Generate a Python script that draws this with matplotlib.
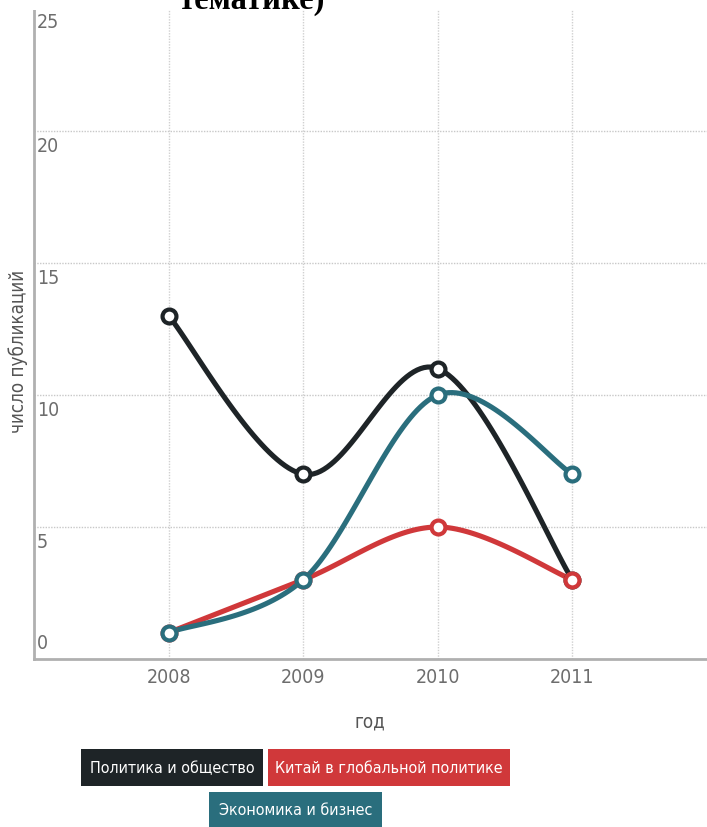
import numpy as np
import matplotlib
matplotlib.use("Agg")
import matplotlib.pyplot as plt
from matplotlib import font_manager
from matplotlib.transforms import blended_transform_factory

years = [2008, 2009, 2010, 2011]
politics = [13, 7, 11, 3]
china = [1, 3, 5, 3]
economy = [1, 3, 10, 7]
names = ["Политика и общество", "Китай в глобальной политике", "Экономика и бизнес"]
colors = ["#1e2427", "#d0383a", "#2a6e7d"]
yticks = [0, 5, 10, 15, 20, 25]

# look for a narrow sans face, the original uses a condensed font
narrow = None
for f in font_manager.fontManager.ttflist:
    if f.stretch in ("condensed", "semi-condensed", "extra-condensed") or \
            "Narrow" in f.name or "Condensed" in f.name:
        if f.style == "normal" and f.weight in (400, "normal", "regular"):
            narrow = f.fname
            break


def fp(size):
    if narrow:
        p = font_manager.FontProperties(fname=narrow, size=size)
        return dict(fontproperties=p)
    return dict(family=["Roboto", "DejaVu Sans"], fontsize=size * 0.9)


def smooth(x, y, n=40):
    # catmull-rom spline through the points, endpoints repeated
    x = np.asarray(x, float)
    y = np.asarray(y, float)
    px = np.concatenate([[x[0]], x, [x[-1]]])
    py = np.concatenate([[y[0]], y, [y[-1]]])
    t = np.linspace(0, 1, n)
    xs, ys = [], []
    for i in range(1, len(px) - 2):
        for p, out in ((px, xs), (py, ys)):
            p0, p1, p2, p3 = p[i - 1], p[i], p[i + 1], p[i + 2]
            out.extend(0.5 * (2 * p1 + (-p0 + p2) * t
                              + (2 * p0 - 5 * p1 + 4 * p2 - p3) * t ** 2
                              + (-p0 + 3 * p1 - 3 * p2 + p3) * t ** 3))
    return xs, ys


fig = plt.figure(figsize=(7.07, 8.28), dpi=100)
ax = fig.add_axes([34 / 707, 1 - 660 / 828, 1 - 34 / 707, 660 / 828])

ax.set_xlim(2007, 2012)
ax.set_ylim(0, 25)

for v in [5, 10, 15, 20, 25]:
    ax.axhline(v, color="#c8c8c8", lw=1.0, ls=(0, (1, 1)), zorder=0)
for yr in years:
    ax.axvline(yr, color="#d0d0d0", lw=1.0, ls=(0, (1, 1)), zorder=0)

for vals, c in zip([politics, china, economy], colors):
    sx, sy = smooth(years, vals)
    ax.plot(sx, sy, color=c, lw=3.7, solid_capstyle="round", zorder=2)
    ax.plot(years, vals, "o", ms=10, mfc="white", mec=c, mew=3.0, zorder=3)

for s in ["top", "right"]:
    ax.spines[s].set_visible(False)
for s in ["left", "bottom"]:
    ax.spines[s].set_color("#b0b0b0")
    ax.spines[s].set_linewidth(2)

ax.set_yticks([])
ax.set_xticks(years)
ax.set_xticklabels([])
ax.tick_params(axis="x", length=0)
for yr in years:
    ax.text(yr, -0.3, str(yr), color="#6d6d6d", ha="center", va="top", **fp(14))

tr = blended_transform_factory(ax.transAxes, ax.transData)
for v in yticks:
    if v == 0:
        ax.text(0.004, 0.25, "0", transform=tr, color="#6d6d6d",
                va="bottom", ha="left", **fp(14))
    elif v == 25:
        ax.text(0.004, v - 0.5, str(v), transform=tr,
                color="#6d6d6d", va="top", ha="left", **fp(14))
    else:
        ax.text(0.004, v - 0.2, str(v), transform=tr,
                color="#6d6d6d", va="top", ha="left", **fp(14))

fig.text(18 / 707, 1 - 351 / 828, "число публикаций", rotation=90,
         color="#555555", ha="center", va="center", **fp(13.5))
fig.text(370 / 707, 1 - 722 / 828, "год", color="#555555",
         ha="center", va="center", **fp(13.5))

# the page heading above the chart is cut off, its white band hides the top
band = plt.Rectangle((0, 1 - 11 / 828), 1, 11 / 828, transform=fig.transFigure,
                     facecolor="white", edgecolor="none", zorder=5)
fig.patches.append(band)
fig.text(252 / 707, 1 - 9 / 828, "тематике)", fontsize=23.5, fontweight="bold",
         family="Liberation Serif", color="black", ha="center", va="baseline",
         zorder=6)

# legend boxes
boxes = [(81, 750, 263, 787), (268, 750, 510, 787), (209, 793, 382, 828)]
for (x0, y0, x1, y1), name, c in zip(boxes, names, colors):
    rect = plt.Rectangle((x0 / 707, 1 - y1 / 828), (x1 - x0) / 707,
                         (y1 - y0) / 828, transform=fig.transFigure,
                         facecolor=c, edgecolor="none")
    fig.patches.append(rect)
    fig.text((x0 + x1) / 2 / 707, 1 - (y0 + y1) / 2 / 828, name,
             color="white", ha="center", va="center", **fp(11.5))

fig.savefig("out.png", dpi=100)
